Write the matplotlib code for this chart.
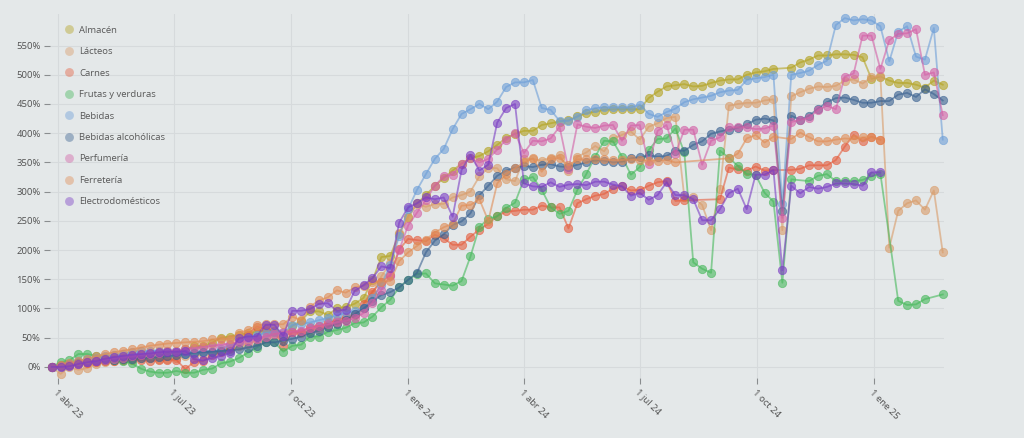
import numpy as np
import pandas as pd
import matplotlib
matplotlib.use("Agg")
import matplotlib.pyplot as plt
from matplotlib.lines import Line2D

nan = np.nan
dates = pd.date_range("2023-03-27", periods=101, freq="7D")

almacen = [0, 2, 3, 5, 8, 10, 12, 14, 16, 18,
           20, 22, 24, 25, 26, 30, 35, 36, 41, 50,
           52, 55, 58, 60, 62, 62, 55, 70, 79, 95,
           95, 89, 100, 103, 108, 118, 148, 188, 190, 228,
           257, 280, 294, 310, 323, 336, 348, 357, 361, 369,
           380, 392, 399, 404, 404, 414, 417, 420, 422, 429,
           434, 437, 440, 441, 441, 441, 441, 460, 471, 480,
           482, 484, 480, 481, 486, 490, 492, 492, 500, 504,
           506, 510, nan, 512, 521, 526, 533, 533, 535, 535,
           534, 530, 493, 497, 490, 486, 486, 483, 478, 490, 483]
lacteos = [0, -12, 0, -5, -2, 5, 8, 10, 12, 14,
           15, 15, 14, 13, 15, 18, 20, 22, 25, 28,
           30, 35, 40, 45, 50, 55, 50, 60, 58, 62,
           65, 70, 75, 80, 88, 100, 125, 155, 177, 229,
           255, 279, 274, 279, 279, 290, 294, 300, 326, 341,
           340, 321, 318, 356, 356, 353, 358, 362, 336, 360,
           367, 378, 369, 391, 397, 403, 389, 411, 417, 426,
           428, 290, 290, 277, 234, 304, 447, 450, 452, 452,
           456, 458, 234, 463, 470, 476, 480, 479, 481, 490,
           492, 485, 496, 498, 204, 267, 280, 285, 269, 302, 196]
carnes = [0, 3, 5, 8, 7, 9, 10, 10, 11, 12,
          12, 10, 11, 12, 12, -4, 9, 10, 20, 25,
          33, 45, 55, 69, 65, 60, 36, 60, 60, 69,
          70, 76, 80, 86, 90, 108, 129, 145, 157, 201,
          219, 217, 215, 226, 220, 209, 209, 223, 235, 245,
          258, 266, 267, 269, 269, 276, 273, 273, 237, 280,
          287, 293, 296, 305, 309, 302, 303, 310, 316, 318,
          284, 285, nan, nan, nan, 287, 341, 338, 336, 343,
          336, 337, nan, 337, 339, 345, 345, 345, 354, 377,
          397, 386, 394, 389, nan, nan, nan, nan, nan, nan, nan]
frutas = [0, 8, 11, 22, 22, 19, 15, 12, 10, 6,
          -3, -8, -10, -10, -7, -10, -10, -5, -3, 6,
          9, 15, 24, 33, 42, 42, 26, 36, 38, 52,
          52, 60, 63, 67, 75, 76, 86, 102, 115, 136,
          149, 159, 160, 143, 141, 139, 147, 189, 240, 253,
          258, 272, 281, 321, 325, 303, 273, 262, 267, 303,
          330, 360, 387, 386, 360, 329, 342, 371, 390, 391,
          408, 367, 179, 168, 161, 370, 358, 344, 330, 329,
          298, 283, 144, 321, nan, 318, 327, 330, 318, 318,
          318, 320, 326, 331, nan, 113, 106, 107, 116, nan, 124]
bebidas = [0, 2, 5, 10, 14, 16, 18, 20, 22, 26,
           27, 27, 27, 28, 28, 22, 25, 26, 26, 30,
           37, 42, 50, 55, 58, 60, 58, 72, 74, 76,
           80, 84, 88, 92, 96, 100, 118, 140, 175, 224,
           270, 303, 330, 356, 373, 407, 433, 441, 450, 441,
           454, 479, 487, 487, 491, 443, 440, 421, 421, 428,
           439, 443, 444, 444, 444, 444, 449, 433, 428, 436,
           442, 453, 458, 461, 464, 470, 473, 474, 491, 494,
           496, 500, 279, 500, 503, 507, 517, 524, 585, 597,
           593, 595, 593, 583, 523, 574, 583, 531, 526, 580, 389]
alcoholicas = [0, 2, 4, 6, 8, 10, 11, 12, 13, 14,
               15, 16, 17, 18, 20, 22, 24, 25, 26, 27,
               28, 30, 33, 36, 42, 42, 45, 48, 52, 58,
               62, 68, 74, 80, 90, 100, 112, 123, 128, 136,
               149, 161, 196, 216, 227, 243, 249, 263, 294, 310,
               327, 336, 341, 344, 342, 346, 347, 343, 342, 346,
               350, 354, 353, 350, 351, 357, 359, 362, 360, 361,
               370, 370, 380, 386, 399, 403, 406, 409, 415, 423,
               425, 422, 267, 430, 423, 430, 442, 453, 460, 461,
               457, 452, 452, 455, 455, 466, 469, 462, 475, 467, 456]
perfumeria = [0, 1, 3, 5, 8, 10, 12, 14, 16, 18,
              20, 22, 24, 27, 28, 30, 32, 34, 36, 38,
              40, 42, 45, 48, 52, 56, 60, 60, 62, 66,
              70, 73, 76, 79, 83, 92, 110, 132, 156, 200,
              242, 264, 286, 310, 326, 329, 348, 357, 350, 356,
              372, 389, 400, 366, 387, 386, 391, 411, 338, 415,
              411, 409, 413, 414, 387, 413, 414, 347, 404, 414,
              365, 406, 406, 346, 387, 393, 410, 410, 410, 407,
              408, 413, 255, 419, 423, 426, 440, 447, 441, 497,
              502, 567, 567, 510, 559, 570, 571, 578, 500, 504, 431]
ferreteria = [0, 3, 6, 10, 14, 18, 22, 25, 28, 30,
              33, 36, 38, 40, 41, 42, 43, 44, 47, 48,
              48, 58, 63, 71, 73, 73, 73, 86, 80, 103,
              114, 119, 131, 127, 136, 139, 145, 146, 147, 181,
              196, 207, 218, 230, 239, 245, 276, 277, 287, 250,
              314, 330, 340, 350, 357, 334, 355, 358, 345, 355,
              355, 356, 355, 354, 354, 355, 354, 353, 353, 354,
              350, nan, nan, nan, nan, nan, 357, 365, 391, 397,
              384, 394, nan, 390, 401, 393, 386, 386, 389, 391,
              390, 393, 393, 389, nan, nan, nan, nan, nan, nan, nan]
electro = [0, 0, 1, 5, 8, 10, 14, 17, 19, 21,
           22, 23, 25, 26, 26, 27, 13, 11, 15, 19,
           24, 49, 52, 52, 72, 72, 53, 96, 96, 99,
           108, 109, 96, 98, 130, 140, 152, 172, 169, 247,
           273, 280, 290, 287, 290, 257, 337, 363, 336, 346,
           418, 443, 450, 314, 309, 308, 316, 308, 312, 313,
           311, 317, 317, 312, 309, 293, 298, 286, 294, 316,
           294, 294, 287, 251, 251, 270, 297, 305, 270, 329,
           329, 337, 165, 310, 297, 308, 305, 308, 314, 314,
           313, 310, 333, 333, nan, nan, nan, nan, nan, nan, nan]

series = [("Almacén", almacen, "#b3a21f"),
          ("Lácteos", lacteos, "#d99b68"),
          ("Carnes", carnes, "#e55c3c"),
          ("Frutas y verduras", frutas, "#45b85a"),
          ("Bebidas", bebidas, "#6c9ed8"),
          ("Bebidas alcohólicas", alcoholicas, "#3a6190"),
          ("Perfumería", perfumeria, "#d35fa6"),
          ("Ferretería", ferreteria, "#e08c55"),
          ("Electrodomésticos", electro, "#7a3cc3")]

tick_dates = pd.to_datetime(["2023-04-01", "2023-07-01", "2023-10-01", "2024-01-01",
                             "2024-04-01", "2024-07-01", "2024-10-01", "2025-01-01"])
tick_labels = ["1 abr 23", "1 jul 23", "1 oct 23", "1 ene 24",
               "1 abr 24", "1 jul 24", "1 oct 24", "1 ene 25"]

BG = "#e4e8e9"
plt.rcParams["font.family"] = ["Open Sans", "DejaVu Sans"]

fig = plt.figure(figsize=(10.24, 4.38), dpi=100, facecolor=BG)
ax = fig.add_axes([0.0492, 0.137, 0.8727, 0.831], facecolor=BG)

handles = []
for name, vals, col in series:
    v = np.array(vals, dtype=float)
    m = ~np.isnan(v)
    ax.plot(dates[m], v[m], color=col, alpha=0.6, lw=1.3, marker="o", ms=6,
            mec=col, mew=0.6, clip_on=False, zorder=3)
    handles.append(Line2D([], [], ls="none", marker="o", ms=6.4, color=col,
                          alpha=0.42, mew=0, label=name))

ax.set_xlim(dates[0] - pd.Timedelta(days=1), dates[-1] + pd.Timedelta(days=1))
ax.set_ylim(-19, 604)
yt = np.arange(0, 551, 50)
ax.set_yticks(yt)
ax.set_yticklabels([f"{int(t)}%" for t in yt])
ax.set_xticks(tick_dates)
ax.set_xticklabels(tick_labels, rotation=-45, ha="left", va="top",
                   rotation_mode="anchor")

for s in ax.spines.values():
    s.set_visible(False)
ax.grid(True, color="#d6dadc", lw=0.8, zorder=0)
ax.set_axisbelow(True)
ax.tick_params(axis="both", length=4, width=0.8, color="#8a8d8f",
               labelsize=6.8, labelcolor="#505050", pad=3)

# legend inside the plot, top left, markers only
leg = ax.legend(handles=handles, loc="upper left", bbox_to_anchor=(0.0152, 0.968),
                frameon=False, fontsize=6.8, handlelength=1.0, handletextpad=0.6,
                labelspacing=1.32, borderpad=0, borderaxespad=0)
for t in leg.get_texts():
    t.set_color("#585858")

fig.savefig("out.png", dpi=100, facecolor=BG)
